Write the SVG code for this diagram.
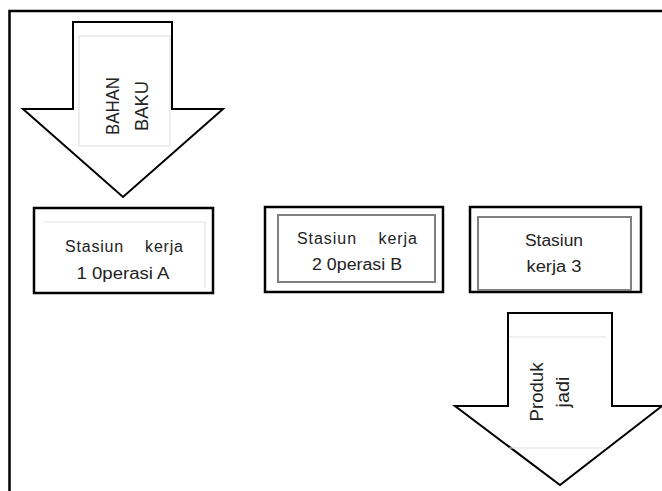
<svg xmlns="http://www.w3.org/2000/svg" width="662" height="491" viewBox="0 0 662 491">
<style>
.frame{fill:none;stroke:#000;stroke-width:2.5}
.arrow{fill:#fff;stroke:#000;stroke-width:2}
.faint{fill:none;stroke:#e2e2e2;stroke-width:1.2}
.box{fill:#fff;stroke:#000;stroke-width:2.5}
.inner{fill:none;stroke:#808080;stroke-width:2}
.t{font-family:"Liberation Sans",Arial,sans-serif;font-size:16px;fill:#222;text-anchor:middle}
.v{font-family:"Liberation Sans",Arial,sans-serif;font-size:18px;fill:#222;text-anchor:middle}
</style>
<rect width="662" height="491" fill="#fff"/>
<path class="frame" d="M9.5,500 V11 H670"/>
<g id="bahan-baku">
<polygon class="arrow" points="73,22 172,22 172,109 223,109 123,197 23,109 73,109"/>
<rect class="faint" x="79" y="36" width="91" height="110"/>
<text class="v" transform="translate(119,106) rotate(-90)" textLength="58" lengthAdjust="spacingAndGlyphs">BAHAN</text>
<text class="v" transform="translate(148,106) rotate(-90)" textLength="50" lengthAdjust="spacingAndGlyphs">BAKU</text>
</g>
<g id="stasiun-1">
<rect class="box" x="34" y="208" width="179" height="85"/>
<path class="faint" d="M43,222 H205 V288"/>
<text class="t" x="124" y="252" xml:space="preserve" textLength="118" lengthAdjust="spacing">Stasiun    kerja</text>
<text class="t" x="123" y="279" textLength="93" lengthAdjust="spacingAndGlyphs">1 0perasi A</text>
</g>
<g id="stasiun-2">
<rect class="box" x="265" y="207" width="178" height="85"/>
<rect class="inner" x="278" y="215" width="157" height="67"/>
<text class="t" x="357" y="244" xml:space="preserve" textLength="120" lengthAdjust="spacing">Stasiun    kerja</text>
<text class="t" x="357" y="270" textLength="90" lengthAdjust="spacingAndGlyphs">2 0perasi B</text>
</g>
<g id="stasiun-3">
<rect class="box" x="470" y="207" width="171" height="85"/>
<rect class="inner" x="478" y="217" width="153" height="73"/>
<text class="t" x="554" y="246" textLength="58" lengthAdjust="spacingAndGlyphs">Stasiun</text>
<text class="t" x="554" y="272" textLength="55" lengthAdjust="spacingAndGlyphs">kerja 3</text>
</g>
<g id="produk-jadi">
<polygon class="arrow" points="508,313 612,313 612,406 662,406 560,485 455,406 508,406"/>
<line class="faint" x1="509" y1="337" x2="606" y2="337"/>
<line class="faint" x1="509" y1="448" x2="606" y2="448"/>
<text class="v" transform="translate(543,392) rotate(-90)" textLength="59" lengthAdjust="spacingAndGlyphs">Produk</text>
<text class="v" transform="translate(569,392) rotate(-90)" textLength="31" lengthAdjust="spacingAndGlyphs">jadi</text>
</g>
<g id="connectors"></g>
</svg>
